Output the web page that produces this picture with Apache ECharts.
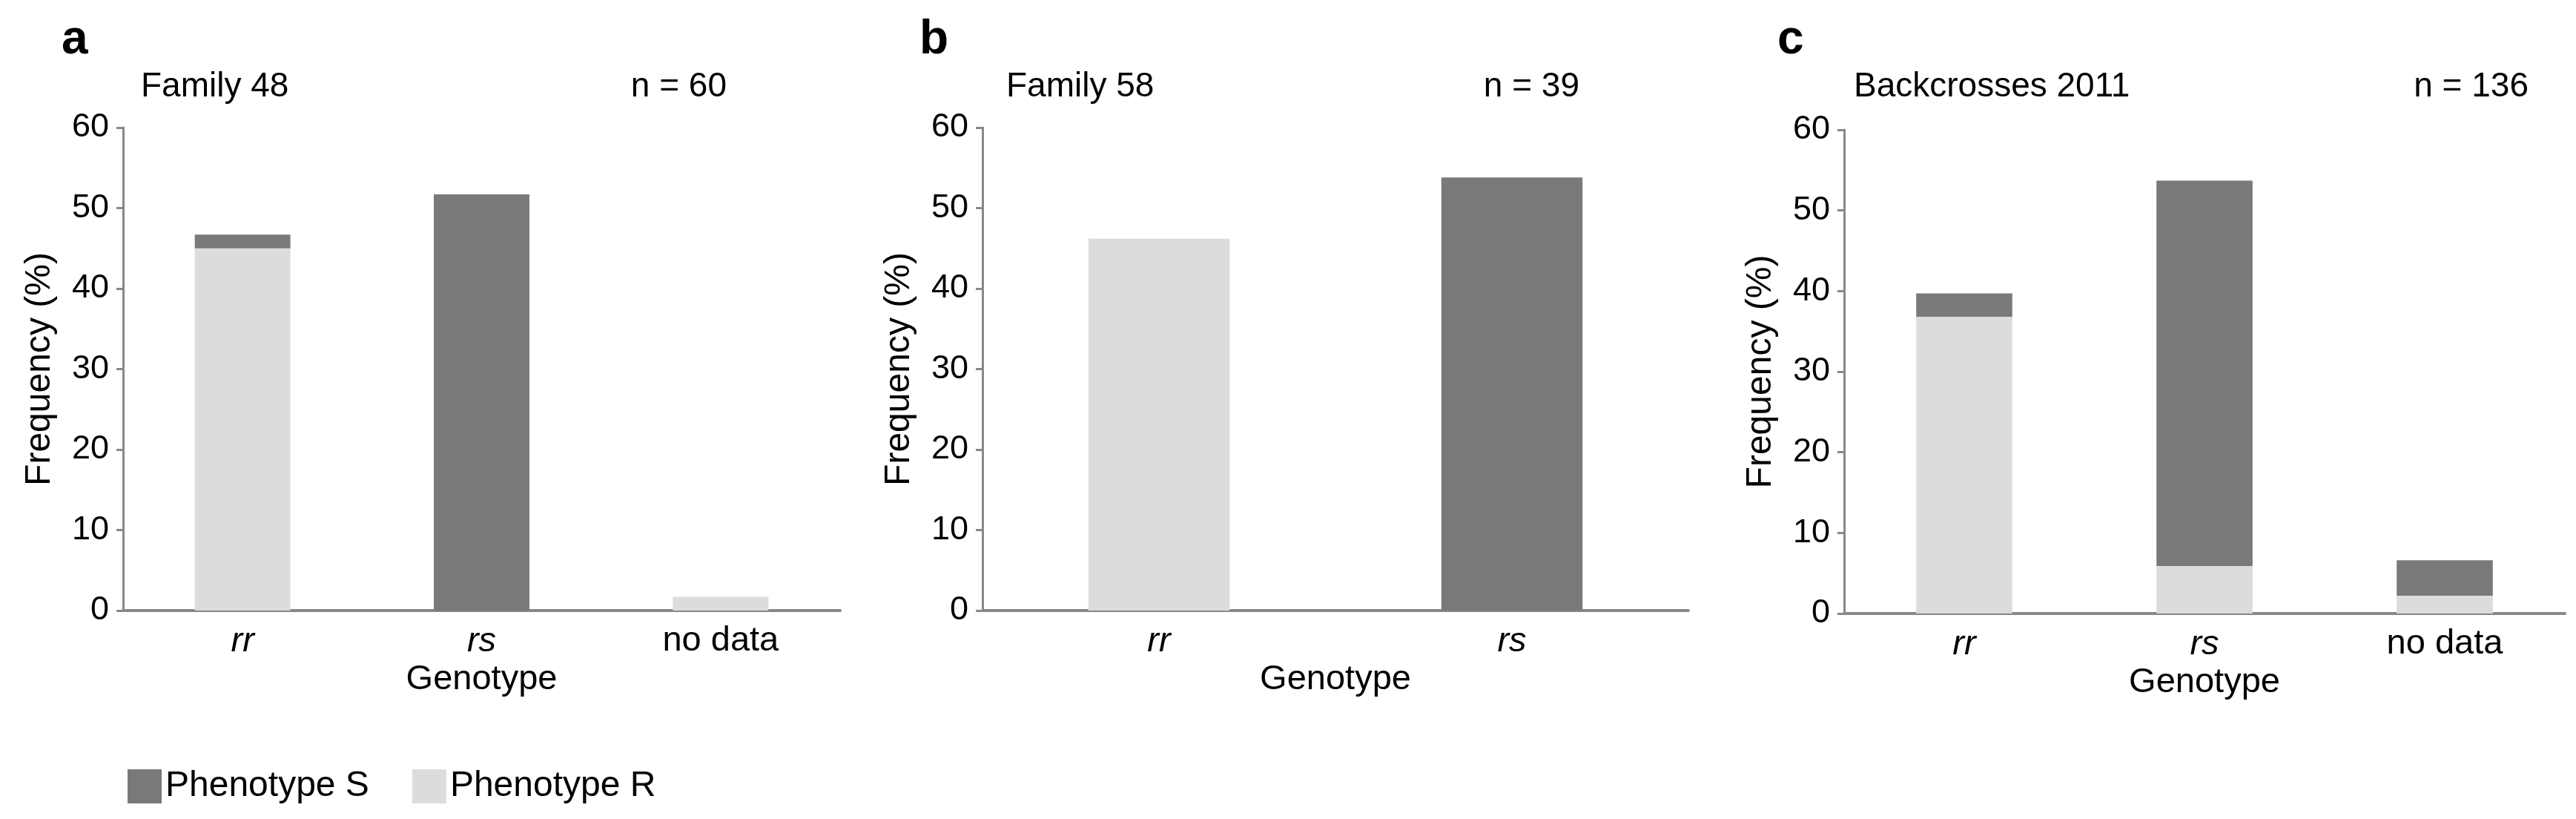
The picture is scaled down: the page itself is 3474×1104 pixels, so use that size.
<!DOCTYPE html>
<html>
<head>
<meta charset="utf-8">
<script src="https://cdn.jsdelivr.net/npm/echarts@6/dist/echarts.min.js"></script>
<style>
  html, body { margin: 0; padding: 0; background: #fff; }
  #chart { width: 3474px; height: 1104px; }
</style>
</head>
<body>
<div id="chart"></div>
<script>
// genotype categories per panel
const catsA = ['rr', 'rs', 'no data'];
const catsB = ['rr', 'rs'];
const catsC = ['rr', 'rs', 'no data'];

// frequencies (%), stacked R below S
const resA = [45.0, 0, 1.7];
const susA = [1.7, 51.7, 0];
const resB = [46.2, 0];
const susB = [0, 53.8];
const resC = [36.8, 5.9, 2.2];
const susC = [2.9, 47.8, 4.4];

const yTicks = [0, 10, 20, 30, 40, 50, 60];

const panelLetters = ['a', 'b', 'c'];
const panelTitles = ['Family 48', 'Family 58', 'Backcrosses 2011'];
const panelCounts = ['n = 60', 'n = 39', 'n = 136'];

const FONT = 'Liberation Sans, Arial, Helvetica, sans-serif';
const DARK = '#797979';
const LIGHT = '#dcdcdc';
const AXIS = '#888888';

const grids = [
  { left: 166, top: 172, width: 967, height: 651 },
  { left: 1325, top: 172, width: 952, height: 651 },
  { left: 2487, top: 175, width: 972, height: 652 },
];

const makeX = (cats, i) => {
  return {
    type: 'category',
    gridIndex: i,
    data: cats,
    name: 'Genotype',
    nameLocation: 'middle',
    nameGap: 68,
    nameTextStyle: { fontSize: 47, color: '#000', fontFamily: FONT },
    axisLine: { lineStyle: { color: AXIS, width: 4 } },
    axisTick: { length: 13, lineStyle: { color: AXIS, width: 3 } },
    axisLabel: {
      fontSize: 47,
      color: '#000',
      fontFamily: FONT,
      margin: 18,
      formatter: v => (v === 'no data' ? v : '{i|' + v + '}'),
      rich: { i: { fontStyle: 'italic', fontSize: 47, fontFamily: FONT, color: '#000' } },
    },
  };
};

const makeY = i => {
  return {
    type: 'value',
    gridIndex: i,
    min: yTicks[0],
    max: yTicks[yTicks.length - 1],
    interval: yTicks[1] - yTicks[0],
    name: 'Frequency (%)',
    nameLocation: 'middle',
    nameRotate: 90,
    nameGap: 88,
    nameTextStyle: { fontSize: 48, color: '#000', fontFamily: FONT },
    splitLine: { show: false },
    axisLine: { show: true, lineStyle: { color: AXIS, width: 3 } },
    axisTick: { show: true, length: 9, lineStyle: { color: AXIS, width: 3 } },
    axisLabel: { fontSize: 45, color: '#000', fontFamily: FONT, margin: 19 },
  };
};

const makeBars = (res, sus, i) => {
  return [
    {
      name: 'Phenotype R',
      type: 'bar',
      stack: 'p' + i,
      xAxisIndex: i,
      yAxisIndex: i,
      barWidth: '40%',
      itemStyle: { color: LIGHT },
      data: res,
    },
    {
      name: 'Phenotype S',
      type: 'bar',
      stack: 'p' + i,
      xAxisIndex: i,
      yAxisIndex: i,
      barWidth: '40%',
      itemStyle: { color: DARK },
      data: sus,
    },
  ];
};

const titles = [];
const letterLeft = [83, 1240, 2397];
const titleLeft = [190, 1357, 2500];
const countRight = [2494, 1344, 64];
for (let i = 0; i < 3; i++) {
  titles.push({
    text: panelLetters[i],
    left: letterLeft[i],
    top: 22,
    padding: 0,
    textStyle: { fontSize: 64, fontWeight: 'bold', color: '#000', fontFamily: FONT },
  });
  titles.push({
    text: panelTitles[i],
    left: titleLeft[i],
    top: 94,
    padding: 0,
    textStyle: { fontSize: 46, fontWeight: 'normal', color: '#000', fontFamily: FONT },
  });
  titles.push({
    text: panelCounts[i],
    right: countRight[i],
    top: 94,
    padding: 0,
    textStyle: { fontSize: 46, fontWeight: 'normal', color: '#000', fontFamily: FONT },
  });
}

const option = {
  animation: false,
  backgroundColor: '#fff',
  title: titles,
  legend: {
    data: ['Phenotype S', 'Phenotype R'],
    left: 172,
    top: 1036,
    padding: 0,
    icon: 'rect',
    itemWidth: 46,
    itemHeight: 46,
    itemGap: 58,
    textStyle: { fontSize: 48, color: '#000', fontFamily: FONT },
  },
  grid: grids,
  xAxis: [makeX(catsA, 0), makeX(catsB, 1), makeX(catsC, 2)],
  yAxis: [makeY(0), makeY(1), makeY(2)],
  series: [...makeBars(resA, susA, 0), ...makeBars(resB, susB, 1), ...makeBars(resC, susC, 2)],
};

const chart = echarts.init(document.getElementById('chart'));
chart.setOption(option);
</script>
</body>
</html>
